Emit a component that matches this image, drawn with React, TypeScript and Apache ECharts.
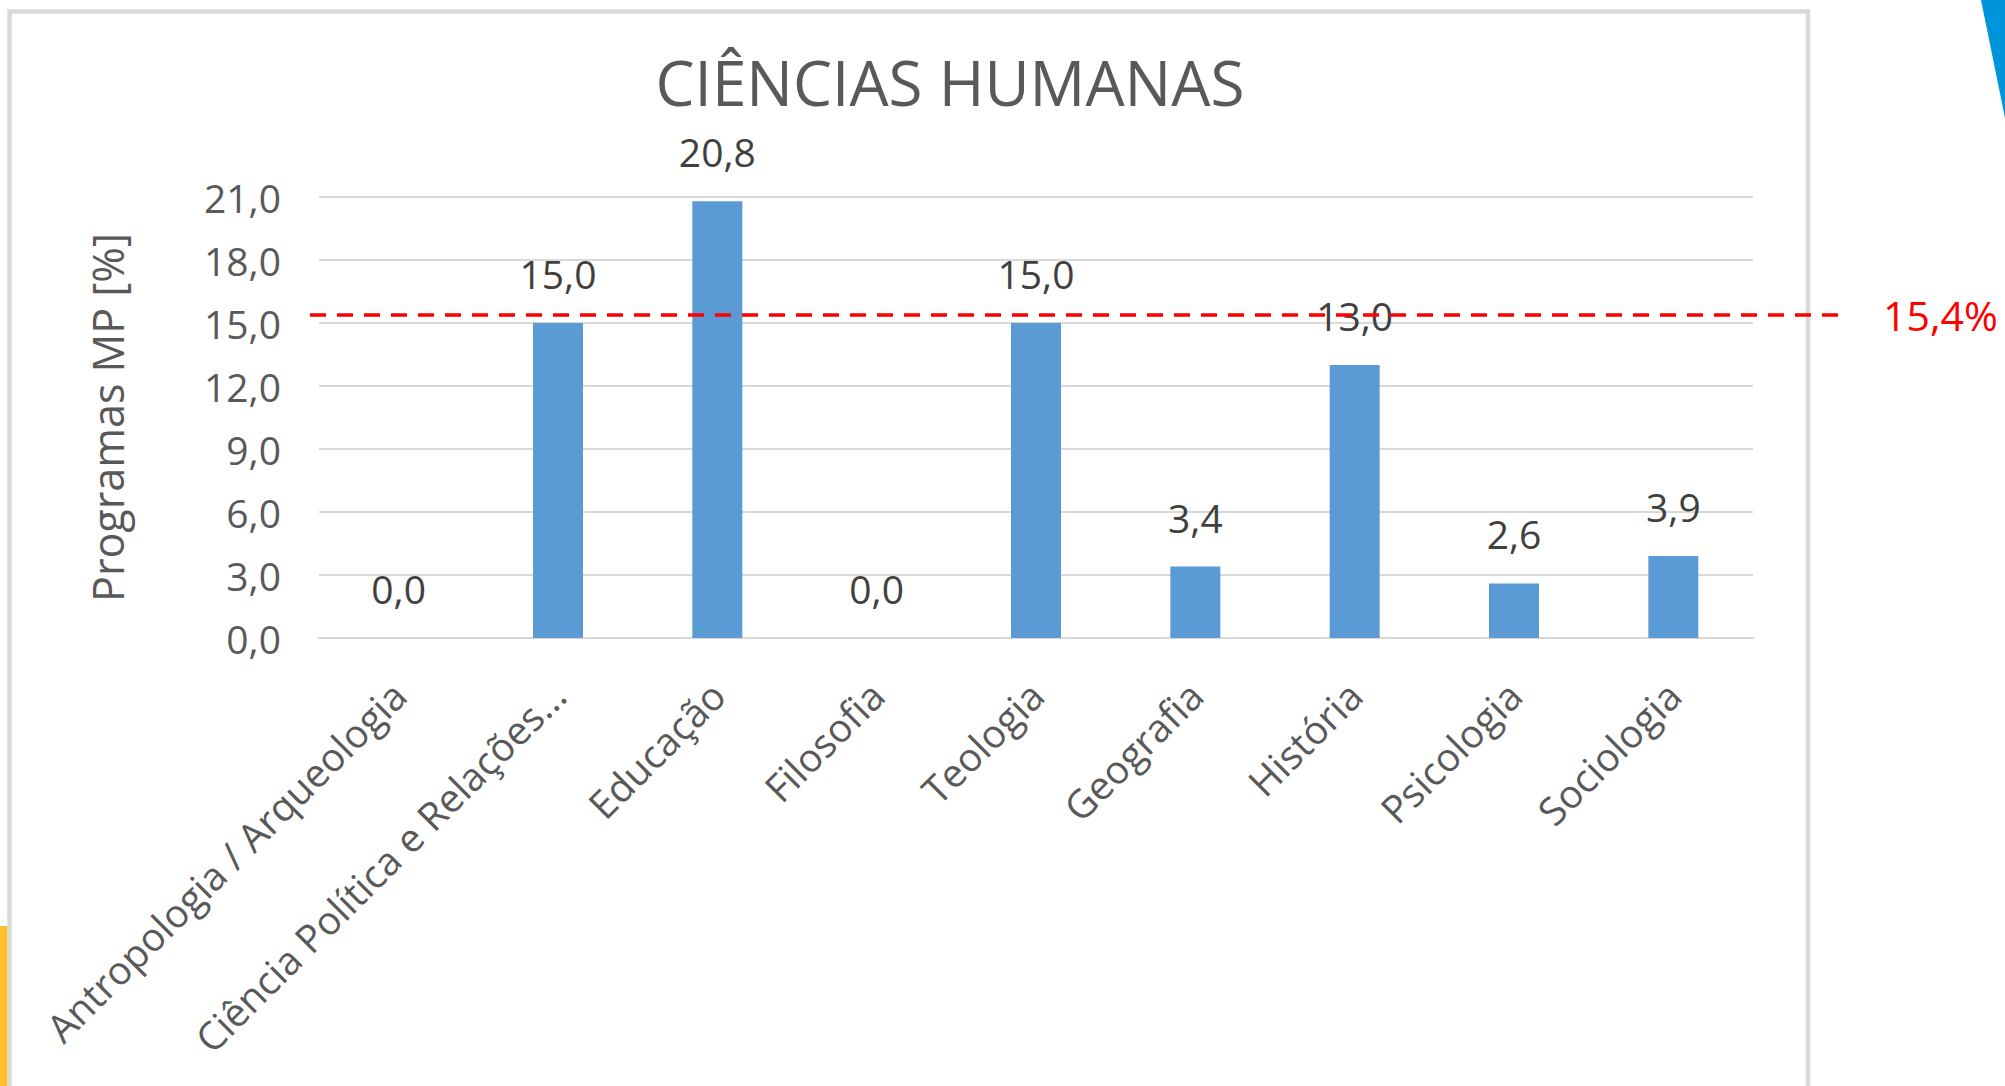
import React, { useEffect, useRef } from "react";
import * as echarts from "echarts";

const categories = [
  "Antropologia / Arqueologia",
  "Ciência Política e Relações...",
  "Educação",
  "Filosofia",
  "Teologia",
  "Geografia",
  "História",
  "Psicologia",
  "Sociologia",
];
const values = [0.0, 15.0, 20.8, 0.0, 15.0, 3.4, 13.0, 2.6, 3.9];
const referenceValue = 15.4;
const yMin = 0;
const yMax = 21;
const yInterval = 3;
const chartTitle = "CIÊNCIAS HUMANAS";
const yAxisName = "Programas MP [%]";

const fmt = (v: number) => Number(v).toFixed(1).replace(".", ",");

export default function App() {
  const ref = useRef<HTMLDivElement>(null);
  useEffect(() => {
    const chart = echarts.init(ref.current!, null, { renderer: "svg" });
    const font = "'Open Sans', sans-serif";
    chart.setOption({
      animation: false,
      backgroundColor: "#ffffff",
      textStyle: { fontFamily: font },
      title: {
        text: chartTitle,
        left: 945,
        top: 46,
        textAlign: "center",
        textStyle: { fontSize: 62, fontWeight: "normal", color: "#595959", fontFamily: font },
      },
      grid: { left: 319, right: 252, top: 197, bottom: 448, containLabel: false },
      xAxis: {
        type: "category",
        data: categories,
        axisTick: { show: false },
        axisLine: { lineStyle: { color: "#d9d9d9", width: 2 } },
        axisLabel: {
          rotate: 45,
          interval: 0,
          margin: 50,
          fontSize: 39,
          color: "#595959",
          fontFamily: font,
        },
      },
      yAxis: {
        type: "value",
        min: yMin,
        max: yMax,
        interval: yInterval,
        name: yAxisName,
        nameLocation: "middle",
        nameRotate: 90,
        nameGap: 190,
        nameTextStyle: { fontSize: 43, color: "#595959", fontFamily: font },
        axisLine: { show: false },
        axisTick: { show: false },
        splitLine: { lineStyle: { color: "#d9d9d9", width: 2 } },
        axisLabel: {
          margin: 38,
          fontSize: 39,
          color: "#595959",
          fontFamily: font,
          formatter: (v: number) => fmt(v),
        },
      },
      series: [
        {
          type: "bar",
          data: values,
          barWidth: 50,
          itemStyle: { color: "#5b9bd5" },
          label: {
            show: true,
            position: "top",
            distance: 30,
            fontSize: 39,
            color: "#404040",
            fontFamily: font,
            formatter: (p: any) => fmt(p.value),
          },
          markLine: {
            silent: true,
            symbol: "none",
            lineStyle: { color: "#ff0000", width: 3.5, type: [16, 11] },
            label: {
              show: true,
              position: "end",
              distance: 35,
              formatter: fmt(referenceValue) + "%",
              color: "#ff0000",
              fontSize: 41,
              fontFamily: font,
            },
            data: [[{ yAxis: referenceValue, x: 310 }, { yAxis: referenceValue, x: 1848 }]],
          },
        },
      ],
      graphic: [
        {
          type: "rect",
          silent: true,
          z: -1,
          shape: { x: 9.5, y: 11.5, width: 1798.5, height: 1200 },
          style: { fill: "none", stroke: "#d9d9d9", lineWidth: 4.5 },
        },
        {
          type: "rect",
          silent: true,
          shape: { x: 0, y: 926, width: 7.3, height: 170 },
          style: { fill: "#fdbf2d" },
        },
        {
          type: "polygon",
          silent: true,
          shape: { points: [[1981, 0], [2005, 0], [2005, 118]] },
          style: { fill: "#0095da" },
        },
      ],
    });
    return () => chart.dispose();
  }, []);
  return (
    <div
      ref={ref}
      style={{ position: "fixed", left: 0, top: 0, width: 2005, height: 1086 }}
    />
  );
}
